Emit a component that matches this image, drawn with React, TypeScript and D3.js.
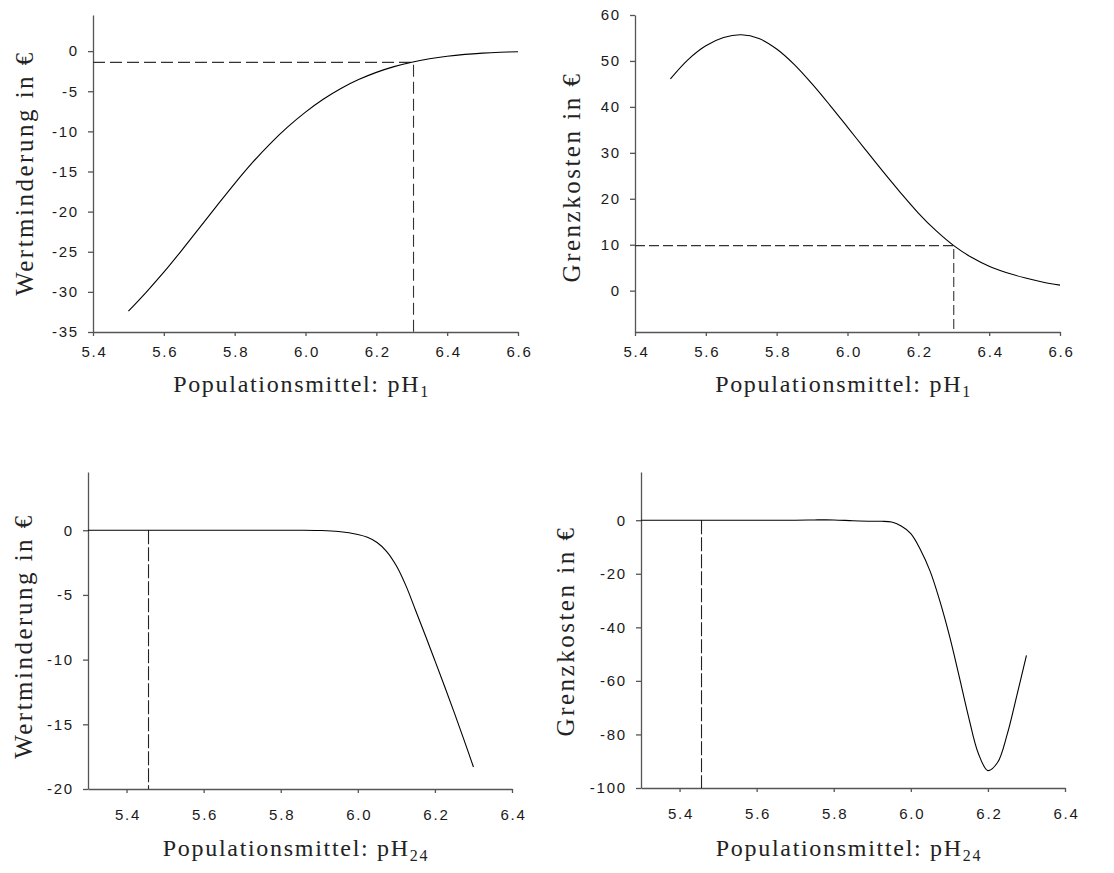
import { useRef, useEffect } from 'react';
import * as d3 from 'd3';

// top row: pH1 (Populationsmittel)
const phTop = [5.5, 5.55, 5.6, 5.65, 5.7, 5.75, 5.8, 5.85, 5.9, 5.95, 6.0, 6.05, 6.1, 6.15, 6.2, 6.25, 6.3, 6.35, 6.4, 6.45, 6.5, 6.55, 6.6];
const wertTop = [-32.4, -30.05, -27.55, -24.85, -22.05, -19.25, -16.5, -13.9, -11.55, -9.45, -7.6, -6.0, -4.65, -3.55, -2.65, -1.93, -1.38, -0.96, -0.64, -0.41, -0.25, -0.14, -0.07];
const grenzTop = [46.1, 50.3, 53.3, 55.1, 55.7, 54.9, 52.6, 49.2, 45.0, 40.4, 35.6, 30.75, 25.95, 21.3, 16.9, 13.05, 9.8, 7.25, 5.3, 3.9, 2.8, 1.9, 1.2];

// bottom row: pH24
const phWert24 = [5.3, 5.4, 5.5, 5.6, 5.7, 5.8, 5.85, 5.9, 5.95, 6.0, 6.025, 6.05, 6.075, 6.1, 6.125, 6.15, 6.175, 6.2, 6.225, 6.25, 6.275, 6.3];
const wert24 = [0, 0, 0, 0, 0, 0, 0, -0.02, -0.1, -0.33, -0.55, -0.95, -1.65, -2.75, -4.3, -6.2, -8.12, -10.08, -12.06, -14.08, -16.16, -18.3];
const phGrenz24 = [5.3, 5.4, 5.5, 5.6, 5.7, 5.75, 5.8, 5.85, 5.9, 5.925, 5.95, 5.975, 6.0, 6.025, 6.05, 6.075, 6.1, 6.125, 6.15, 6.175, 6.2, 6.225, 6.25, 6.275, 6.3];
const grenz24 = [0, 0, 0, 0, 0, 0.1, 0.1, -0.2, -0.4, -0.4, -0.7, -2.2, -5, -11, -19, -30, -43, -58, -73.5, -87, -93.5, -90.5, -80, -65.5, -50.5];

// tick values
const xTicksTop = [5.4, 5.6, 5.8, 6.0, 6.2, 6.4, 6.6];
const xTicksBottom = [5.4, 5.6, 5.8, 6.0, 6.2, 6.4];
const yTicksWertTop = [-35, -30, -25, -20, -15, -10, -5, 0];
const yTicksGrenzTop = [0, 10, 20, 30, 40, 50, 60];
const yTicksWert24 = [-20, -15, -10, -5, 0];
const yTicksGrenz24 = [-100, -80, -60, -40, -20, 0];

// optimum markers
const optWertTop = [6.305, -1.4];
const optGrenzTop = [6.3, 9.8];
const opt24 = 5.457;

const SERIF = '"Liberation Serif", "Times New Roman", serif';
const SANS = '"Liberation Sans", Arial, sans-serif';

type Panel = {
    left: number; right: number; top: number; bottom: number;
    xDomain: number[]; yDomain: number[];
    xTicks: number[]; yTicks: number[];
    xs: number[]; ys: number[];
    yLabel: string; sub: string;
    yLabelX: number; yLabelY: number; xLabelY: number; xPad: number;
    opt: number[] | null; optX: number | null; dash: string;
};

function drawPanel(svg: any, p: Panel) {
    const x = d3.scaleLinear().domain(p.xDomain).range([p.left, p.right]);
    const y = d3.scaleLinear().domain(p.yDomain).range([p.bottom, p.top]);
    const g = svg.append('g');

    // axes
    const ax = g.append('g')
        .attr('transform', `translate(0,${p.bottom})`)
        .call(d3.axisBottom(x).tickValues(p.xTicks).tickFormat(d3.format('.1f')).tickSizeInner(4).tickSizeOuter(0).tickPadding(p.xPad));
    const ay = g.append('g')
        .attr('transform', `translate(${p.left},0)`)
        .call(d3.axisLeft(y).tickValues(p.yTicks).tickFormat(d => String(d)).tickSizeInner(5).tickSizeOuter(0).tickPadding(9));

    [ax, ay].forEach(a => {
        a.attr('font-family', SANS).attr('font-size', 15);
        a.selectAll('.domain, .tick line').attr('stroke', '#555').attr('stroke-width', 1.3);
        a.selectAll('text').attr('fill', '#1a1a1a').style('letter-spacing', '1.8px');
    });
    ax.selectAll('text').attr('dx', 1);

    // dashed reference lines
    if (p.opt) {
        g.append('path')
            .attr('d', `M${p.left},${y(p.opt[1])}H${x(p.opt[0])}V${p.bottom}`)
            .attr('fill', 'none')
            .attr('stroke', '#333')
            .attr('stroke-width', 1.1)
            .attr('stroke-dasharray', p.dash);
    }
    if (p.optX !== null) {
        g.append('line')
            .attr('x1', x(p.optX)).attr('x2', x(p.optX))
            .attr('y1', y(0)).attr('y2', p.bottom)
            .attr('stroke', '#222')
            .attr('stroke-width', 1.1)
            .attr('stroke-dasharray', p.dash);
    }

    // curve
    const line = d3.line<number>()
        .x((_, i) => x(p.xs[i]))
        .y(d => y(d))
        .curve(d3.curveCatmullRom);
    g.append('path')
        .datum(p.ys)
        .attr('d', line)
        .attr('fill', 'none')
        .attr('stroke', '#000')
        .attr('stroke-width', 1.1);

    // axis titles
    const xl = g.append('text')
        .attr('x', (p.left + p.right) / 2 - 4)
        .attr('y', p.xLabelY)
        .attr('text-anchor', 'middle')
        .attr('font-family', SERIF)
        .attr('font-size', 24)
        .attr('fill', '#222')
        .style('letter-spacing', '1.7px');
    xl.append('tspan').text('Populationsmittel: pH');
    xl.append('tspan').attr('font-size', 16).attr('dy', 5).text(p.sub);

    g.append('text')
        .attr('transform', `translate(${p.yLabelX},${p.yLabelY}) rotate(-90)`)
        .attr('text-anchor', 'middle')
        .attr('font-family', SERIF)
        .attr('font-size', 25)
        .attr('fill', '#222')
        .style('letter-spacing', '2.5px')
        .text(p.yLabel);
}

export default function App() {
    const ref = useRef<SVGSVGElement>(null);

    useEffect(() => {
        if (!ref.current) return;
        const svg = d3.select(ref.current);
        svg.selectAll('*').remove();

        const panels: Panel[] = [
            {
                left: 93, right: 518, top: 15, bottom: 332,
                xDomain: [5.4, 6.6], yDomain: [-35, 4.5],
                xTicks: xTicksTop, yTicks: yTicksWertTop,
                xs: phTop, ys: wertTop,
                yLabel: 'Wertminderung in €', sub: '1',
                yLabelX: 33, yLabelY: 173, xLabelY: 392, xPad: 10,
                opt: optWertTop, optX: null, dash: '12,5',
            },
            {
                left: 635, right: 1060, top: 15, bottom: 332,
                xDomain: [5.4, 6.6], yDomain: [-9, 60],
                xTicks: xTicksTop, yTicks: yTicksGrenzTop,
                xs: phTop, ys: grenzTop,
                yLabel: 'Grenzkosten in €', sub: '1',
                yLabelX: 580, yLabelY: 177, xLabelY: 392, xPad: 10,
                opt: optGrenzTop, optX: null, dash: '10,4',
            },
            {
                left: 88, right: 512, top: 472, bottom: 789,
                xDomain: [5.3, 6.4], yDomain: [-20, 4.5],
                xTicks: xTicksBottom, yTicks: yTicksWert24,
                xs: phWert24, ys: wert24,
                yLabel: 'Wertminderung in €', sub: '24',
                yLabelX: 32, yLabelY: 636, xLabelY: 856, xPad: 16,
                opt: null, optX: opt24, dash: '14,3',
            },
            {
                left: 641, right: 1065, top: 472, bottom: 788,
                xDomain: [5.3, 6.4], yDomain: [-100, 18],
                xTicks: xTicksBottom, yTicks: yTicksGrenz24,
                xs: phGrenz24, ys: grenz24,
                yLabel: 'Grenzkosten in €', sub: '24',
                yLabelX: 574, yLabelY: 631, xLabelY: 856, xPad: 16,
                opt: null, optX: opt24, dash: '14,3',
            },
        ];

        panels.forEach(p => drawPanel(svg, p));
    }, []);

    return (
        <svg
            ref={ref}
            width={1114}
            height={873}
            style={{ position: 'absolute', left: 0, top: 0, background: '#fff' }}
        />
    );
}
